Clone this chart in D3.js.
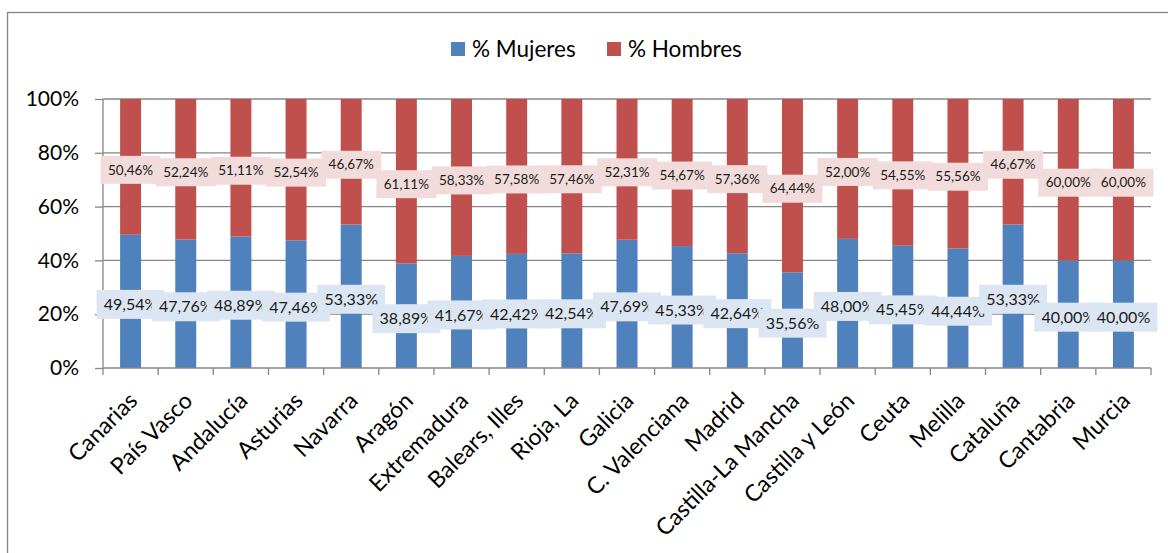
<!DOCTYPE html>
<html>
<head>
<meta charset="utf-8">
<script src="https://cdn.jsdelivr.net/npm/d3@7"></script>
<style>
  html, body { margin: 0; padding: 0; background: #fff; }
  svg { display: block; font-family: Lato, "Open Sans", sans-serif; }
</style>
</head>
<body>
<svg id="chart" width="1168" height="553"></svg>
<script>
const categories = ["Canarias", "País Vasco", "Andalucía", "Asturias", "Navarra", "Aragón", "Extremadura", "Balears, Illes", "Rioja, La", "Galicia", "C. Valenciana", "Madrid", "Castilla-La Mancha", "Castilla y León", "Ceuta", "Melilla", "Cataluña", "Cantabria", "Murcia"];
const mujeres = [49.54, 47.76, 48.89, 47.46, 53.33, 38.89, 41.67, 42.42, 42.54, 47.69, 45.33, 42.64, 35.56, 48.00, 45.45, 44.44, 53.33, 40.00, 40.00];
const hombres = [50.46, 52.24, 51.11, 52.54, 46.67, 61.11, 58.33, 57.58, 57.46, 52.31, 54.67, 57.36, 64.44, 52.00, 54.55, 55.56, 46.67, 60.00, 60.00];
const yTicks = [0, 20, 40, 60, 80, 100];
const seriesNames = ["% Mujeres", "% Hombres"];

const colors = { mujeres: "#4f81bd", hombres: "#c0504d" };
const boxColors = { mujeres: "#dce6f2", hombres: "#f2dcdb" };
const gridColor = "#868686";

const svg = d3.select("#chart");

// outer frame
svg.append("rect")
  .attr("x", 7.5).attr("y", 12.5)
  .attr("width", 1200).attr("height", 600)
  .attr("fill", "none").attr("stroke", gridColor).attr("stroke-width", 1.3);

const pLeft = 103, pRight = 1151, pTop = 99, pBottom = 368;

const x = d3.scaleBand().domain(categories).range([pLeft, pRight]).paddingInner(0.62).paddingOuter(0.31);
const y = d3.scaleLinear().domain([0, 100]).range([pBottom, pTop]);
const xb = d3.scaleBand().domain(categories).range([pLeft, pRight]);

// gridlines
svg.append("g").selectAll("line").data(yTicks.filter(d => d > 0)).join("line")
  .attr("x1", pLeft).attr("x2", pRight)
  .attr("y1", d => y(d)).attr("y2", d => y(d))
  .attr("stroke", gridColor).attr("stroke-width", 1.3);

// y axis
const yAxis = svg.append("g").attr("transform", `translate(${pLeft},0)`)
  .call(d3.axisLeft(y).tickValues(yTicks).tickFormat(d => d + "%").tickSize(8).tickPadding(16));
yAxis.select(".domain").attr("stroke", gridColor).attr("stroke-width", 1.3).attr("d", `M0,${pTop}V${pBottom}`);
yAxis.selectAll(".tick line").attr("stroke", gridColor).attr("stroke-width", 1.3);
yAxis.selectAll(".tick text").attr("font-size", 21).attr("fill", "#000").attr("font-family", "Lato, sans-serif");

// bars
const stacked = categories.map((c, i) => ({ c, m: mujeres[i], h: hombres[i] }));
const bars = svg.append("g");
bars.selectAll("rect.m").data(stacked).join("rect")
  .attr("x", d => x(d.c)).attr("width", x.bandwidth())
  .attr("y", d => y(d.m)).attr("height", d => y(0) - y(d.m))
  .attr("fill", colors.mujeres);
bars.selectAll("rect.h").data(stacked).join("rect")
  .attr("x", d => x(d.c)).attr("width", x.bandwidth())
  .attr("y", d => y(d.m + d.h)).attr("height", d => y(d.m) - y(d.m + d.h))
  .attr("fill", colors.hombres);

// x axis
const xAxis = svg.append("g").attr("transform", `translate(0,${pBottom})`);
xAxis.append("line").attr("x1", pLeft).attr("x2", pRight).attr("y1", 0).attr("y2", 0)
  .attr("stroke", gridColor).attr("stroke-width", 1.3);
const bounds = categories.map(c => xb(c)).concat([pRight]);
xAxis.selectAll("line.tk").data(bounds).join("line")
  .attr("x1", d => d).attr("x2", d => d).attr("y1", 0).attr("y2", 7)
  .attr("stroke", gridColor).attr("stroke-width", 1.3);
xAxis.selectAll("text").data(categories).join("text")
  .attr("transform", d => `translate(${xb(d) + xb.bandwidth() / 2 - 4},${22}) rotate(-45)`)
  .attr("text-anchor", "end").attr("dy", "0.75em")
  .attr("font-size", 23).attr("fill", "#000")
  .text(d => d);

// data labels
function fmt(v) { return v.toFixed(2).replace(".", ",") + "%"; }
const labelSeries = [
  { key: "mujeres", vals: mujeres, base: i => 0, w: 68, h: 29, fs: 16 },
  { key: "hombres", vals: hombres, base: i => mujeres[i], w: 60, h: 28, fs: 13.5 }
];
labelSeries.forEach(s => {
  const g = svg.append("g");
  categories.forEach((c, i) => {
    const cx = xb(c) + xb.bandwidth() / 2;
    const cy = y(s.base(i) + s.vals[i] / 2) + 3;
    g.append("rect").attr("x", cx - s.w / 2).attr("y", cy - s.h / 2)
      .attr("width", s.w).attr("height", s.h).attr("fill", boxColors[s.key]);
    g.append("text").attr("x", cx).attr("y", cy).attr("dy", "0.35em")
      .attr("text-anchor", "middle").attr("font-size", s.fs).attr("fill", "#1a1a1a")
      .text(fmt(s.vals[i]));
  });
});

// legend
const legend = svg.append("g");
const legendItems = [
  { name: seriesNames[0], color: colors.mujeres, x: 451 },
  { name: seriesNames[1], color: colors.hombres, x: 607 }
];
legendItems.forEach(it => {
  legend.append("rect").attr("x", it.x).attr("y", 42).attr("width", 14).attr("height", 14).attr("fill", it.color);
  legend.append("text").attr("x", it.x + 21).attr("y", 57).attr("font-size", 22.5).attr("fill", "#000").text(it.name);
});
</script>
</body>
</html>
